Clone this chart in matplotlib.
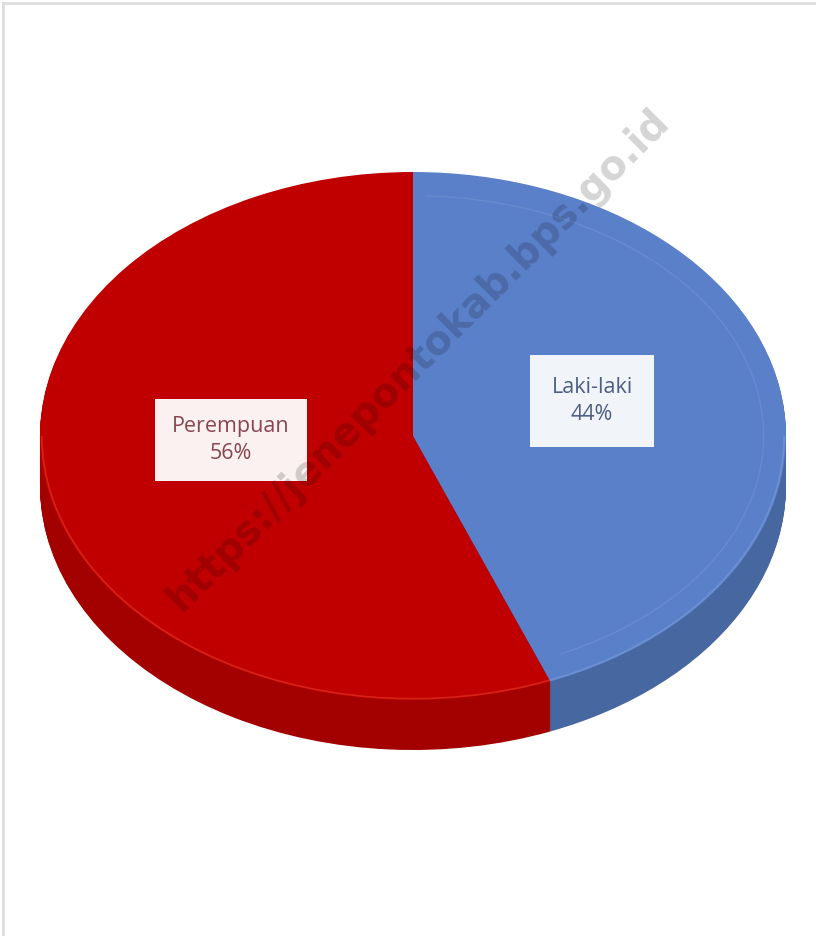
import numpy as np
import matplotlib
matplotlib.use("Agg")
import matplotlib.pyplot as plt
from matplotlib.patches import Arc

labels = ["Laki-laki", "Perempuan"]
shares = [44, 56]
top_colors = ["#5A80C9", "#C00000"]
side_colors = ["#46679F", "#A30000"]
rim_colors = ["#7E9FDA", "#E8402A"]
text_colors = ["#4E5F82", "#8A4650"]
box_colors = ["#F1F4F9", "#FBF1F1"]
watermark = "https://jenepontokab.bps.go.id"

W, H = 816, 936
cx, cy = 413, 436        # centre of top face in pixels (from top)
rx, ry = 373, 264        # semi axes in pixels
depth = 50

fig = plt.figure(figsize=(W / 100, H / 100), dpi=100)
ax = fig.add_axes([0, 0, 1, 1])

# side of the cake: stacked copies of the pie, shifted down
for k in range(depth, 0, -1):
    ax.pie(shares, colors=side_colors, startangle=90, counterclock=False,
           center=(0, -k / ry), radius=1.0, wedgeprops=dict(linewidth=0))

# top face
wedges, _ = ax.pie(shares, colors=top_colors, startangle=90, counterclock=False,
                   center=(0, 0), radius=1.0, wedgeprops=dict(linewidth=0))

# light bevel line along the front rim of each slice
for w, rc in zip(wedges, rim_colors):
    t1, t2 = w.theta1 % 360, w.theta2 % 360
    if t2 <= t1:
        t2 += 360
    lo, hi = max(t1, 180), min(t2, 360)
    if t1 < 0 + 1e-9 and t2 > 360:
        lo = 180
    if hi > lo:
        ax.add_patch(Arc((0, 0), 1.99, 1.99, theta1=lo, theta2=hi,
                         lw=1.2, color=rc, alpha=0.55))
# faint inner ring on the blue slice
b = wedges[0]
ax.add_patch(Arc((0, 0), 1.88, 1.82, theta1=b.theta1 + 4, theta2=b.theta2 - 2,
                 lw=1.0, color="#7C9CD8", alpha=0.4))

ax.set_aspect("auto")
ax.set_xlim(-cx / rx, (W - cx) / rx)
ax.set_ylim(-(H - cy) / ry, cy / ry)
ax.axis("off")

# data labels
font = ["Open Sans", "DejaVu Sans"]
lab_pos = [(592, 401), (231, 440)]
pads = [1.0, 0.8]
for lab, val, (px, py), tc, bc, pd in zip(labels, shares, lab_pos, text_colors, box_colors, pads):
    fig.text(px / W, 1 - py / H, f"{lab}\n{val}%", ha="center", va="center",
             fontsize=15.5, color=tc, family=font, linespacing=1.4,
             bbox=dict(boxstyle=f"square,pad={pd}", fc=bc, ec="none"))

# watermark
fig.text(418 / W, 1 - 360 / H, watermark, rotation=45, ha="center", va="center",
         fontsize=28.5, fontweight="bold", color="black", alpha=0.17,
         family=["DejaVu Sans"])

# faint frame on left and top
fig.add_artist(plt.Line2D([3 / W, 3 / W], [0, 1 - 3 / H], color="#DDDDDD", lw=2))
fig.add_artist(plt.Line2D([3 / W, 1], [1 - 3 / H, 1 - 3 / H], color="#DDDDDD", lw=2))

fig.savefig("out.png", dpi=100, facecolor="white")
